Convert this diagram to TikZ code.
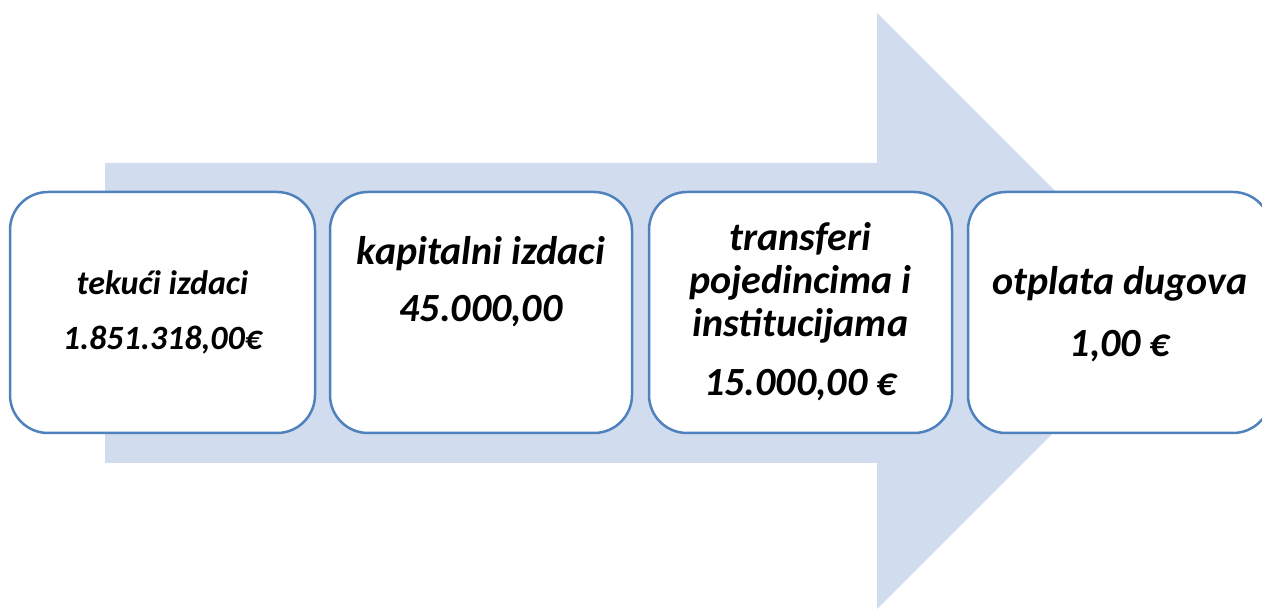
\documentclass[tikz,border=0pt]{standalone}
\usepackage{fontspec}
\setmainfont{Carlito}
\definecolor{arrowfill}{RGB}{209,220,238}
\definecolor{boxline}{RGB}{79,129,189}
\tikzset{every picture/.style={line width=2.5pt}}

\begin{document}
\begin{tikzpicture}[x=1pt,y=1pt,yscale=-1,xscale=1,
  box/.style={draw=boxline,fill=white,rounded corners=38,minimum height=241,inner sep=0},
  lbl/.style={align=center,inner sep=0,font=\bfseries\itshape}]
\useasboundingbox (0,0) rectangle (1262,609);
\clip (0,0) rectangle (1262,609);

%Shape: Right Arrow [id:arrow]
\fill[arrowfill] (105,163) -- (877,163) -- (877,13) -- (1175,311) -- (877,609) -- (877,463) -- (105,463) -- cycle ;

%Shape: Rounded Rect [id:b1]
\node[box,minimum width=305] (b1) at (162.5,312.5) {};
%Shape: Rounded Rect [id:b2]
\node[box,minimum width=302] (b2) at (481,312.5) {};
%Shape: Rounded Rect [id:b3]
\node[box,minimum width=303] (b3) at (800.5,312.5) {};
%Shape: Rounded Rect [id:b4]
\node[box,minimum width=303] (b4) at (1119.5,312.5) {};

% Text Node
\node[lbl,font=\bfseries\itshape\fontsize{34}{55}\selectfont] (t1) at (162.5,312) {tekući izdaci\\1.851.318,00€};
% Text Node
\node[lbl,font=\bfseries\itshape\fontsize{40}{57}\selectfont] (t2) at (481,282) {kapitalni izdaci\\45.000,00};
% Text Node
\node[lbl,font=\bfseries\itshape\fontsize{40}{43}\selectfont] (t3) at (800.5,312) {transferi\\pojedincima i\\institucijama\\[16pt]15.000,00 €};
% Text Node
\node[lbl,font=\bfseries\itshape\fontsize{40}{62}\selectfont] (t4) at (1120,314) {otplata dugova\\1,00 €};

\end{tikzpicture}
\end{document}
